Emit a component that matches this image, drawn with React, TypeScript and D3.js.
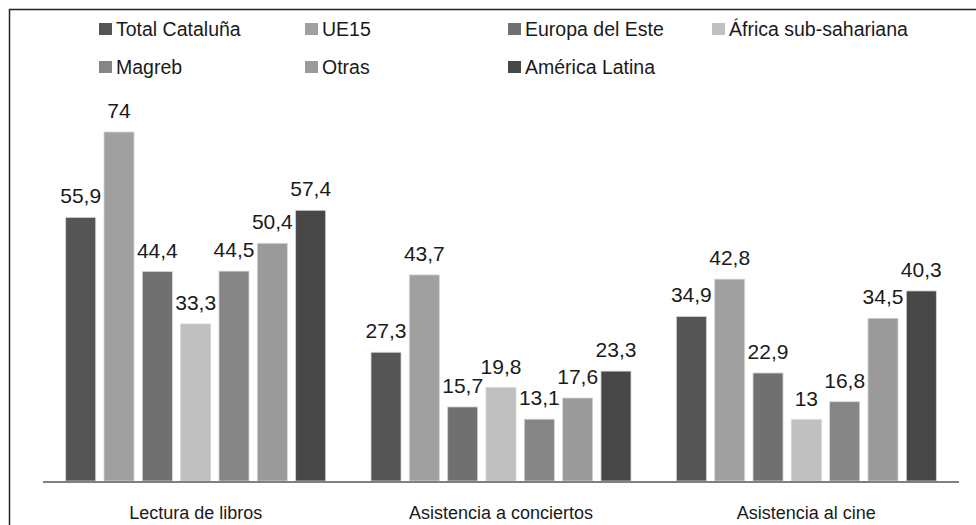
import React from "react";
import * as d3 from "d3";

// Categories, series and values (percent)
const categories = ["Lectura de libros", "Asistencia a conciertos", "Asistencia al cine"];
const seriesNames = [
  "Total Cataluña",
  "UE15",
  "Europa del Este",
  "África sub-sahariana",
  "Magreb",
  "Otras",
  "América Latina",
];
const totalCataluna = [55.9, 27.3, 34.9];
const ue15 = [74, 43.7, 42.8];
const europaEste = [44.4, 15.7, 22.9];
const africa = [33.3, 19.8, 13];
const magreb = [44.5, 13.1, 16.8];
const otras = [50.4, 17.6, 34.5];
const americaLatina = [57.4, 23.3, 40.3];
const seriesValues = [totalCataluna, ue15, europaEste, africa, magreb, otras, americaLatina];
const seriesColors = ["#555555", "#a0a0a0", "#707070", "#c0c0c0", "#858585", "#9a9a9a", "#474747"];

const W = 976;
const H = 525;
const FONT = "'Liberation Sans', Arial, sans-serif";

const locale = d3.formatLocale({ decimal: ",", thousands: ".", grouping: [3], currency: ["", " €"] });
const fmt = (v: number) => locale.format("~f")(v);

export default function App() {
  const baseY = 481;
  const x0 = d3.scaleBand<string>().domain(categories).range([43, 959]);
  const groupW = 268.3;
  const bw0 = x0.bandwidth();
  const x1 = d3
    .scaleBand<string>()
    .domain(seriesNames)
    .range([(bw0 - groupW) / 2, (bw0 + groupW) / 2])
    .paddingInner(0.217)
    .paddingOuter(0.1085);
  const y = d3.scaleLinear().domain([0, 80]).range([baseY, baseY - 80 * 4.716]);

  // legend layout: 4 columns, 2 rows
  const legendCols = [99, 305, 508, 712];
  const legendRows = [23, 61];

  return (
    <svg width={W} height={H} style={{ position: "absolute", left: 0, top: 0, background: "#fff" }}>
      {/* frame */}
      <path d={`M9.5,${H + 2} V9.5 H${W + 2}`} fill="none" stroke="#222" strokeWidth={1.5} />

      {/* legend */}
      {seriesNames.map((name, i) => {
        const lx = legendCols[i % 4];
        const ly = legendRows[Math.floor(i / 4)];
        return (
          <g key={name}>
            <rect x={lx} y={ly} width={13} height={12} fill={seriesColors[i]} />
            <text x={lx + 17} y={ly + 12.5} fontFamily={FONT} fontSize={19.5} fill="#1a1a1a">
              {name}
            </text>
          </g>
        );
      })}

      {/* bars */}
      {categories.map((cat, ci) => (
        <g key={cat} transform={`translate(${x0(cat)},0)`}>
          {seriesNames.map((s, si) => {
            const v = seriesValues[si][ci];
            const bx = x1(s)!;
            return (
              <g key={s}>
                <rect
                  x={bx}
                  y={y(v)}
                  width={x1.bandwidth()}
                  height={baseY - y(v)}
                  fill={seriesColors[si]}
                  stroke="#d4d4d4"
                  strokeWidth={0.8}
                />
                <text
                  x={bx + x1.bandwidth() / 2}
                  y={y(v) - 14}
                  textAnchor="middle"
                  fontFamily={FONT}
                  fontSize={21}
                  fill="#1a1a1a"
                >
                  {fmt(v)}
                </text>
              </g>
            );
          })}
          <text
            x={bw0 / 2}
            y={519}
            textAnchor="middle"
            fontFamily={FONT}
            fontSize={18}
            fill="#1a1a1a"
          >
            {cat}
          </text>
        </g>
      ))}

      {/* axis line */}
      <line x1={43} x2={959} y1={baseY + 1} y2={baseY + 1} stroke="#808080" strokeWidth={2} />
    </svg>
  );
}
